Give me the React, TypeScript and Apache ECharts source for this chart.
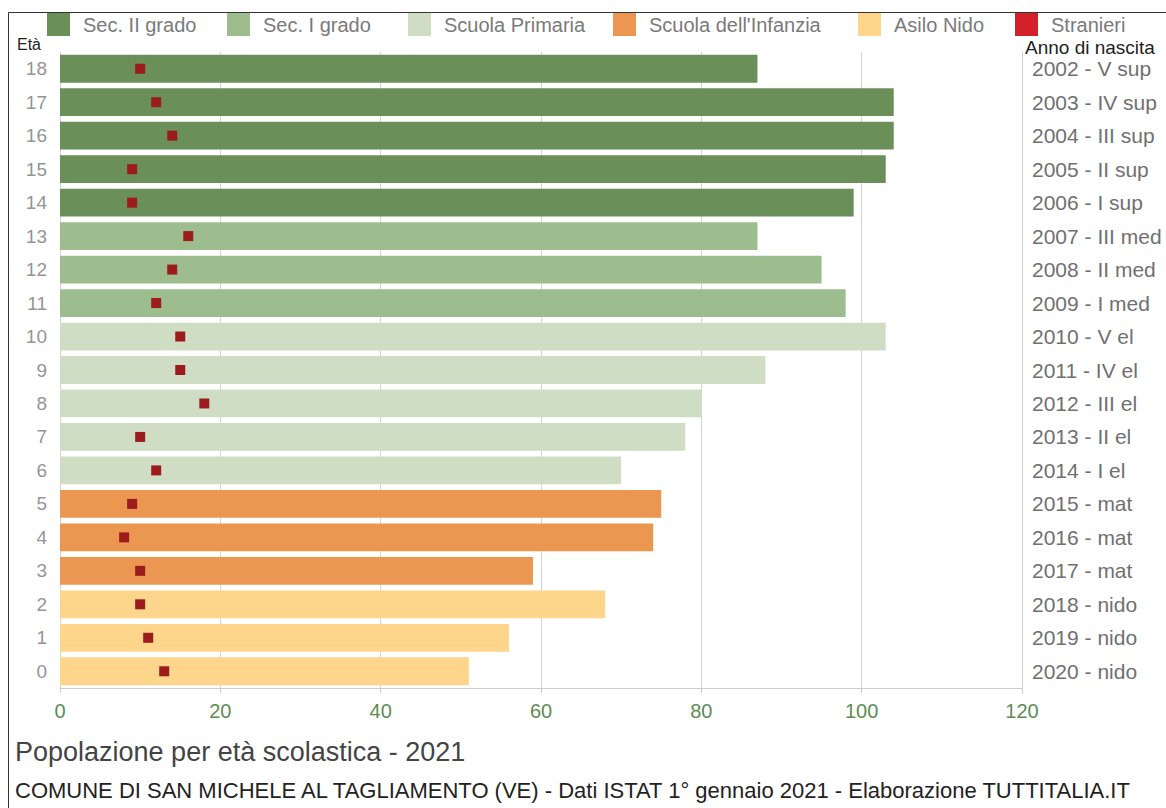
import React, { useEffect, useRef } from "react";
import * as echarts from "echarts";

const ages = ["0", "1", "2", "3", "4", "5", "6", "7", "8", "9", "10", "11", "12", "13", "14", "15", "16", "17", "18"];
const birthLabels = [
  "2020 - nido", "2019 - nido", "2018 - nido",
  "2017 - mat", "2016 - mat", "2015 - mat",
  "2014 - I el", "2013 - II el", "2012 - III el", "2011 - IV el", "2010 - V el",
  "2009 - I med", "2008 - II med", "2007 - III med",
  "2006 - I sup", "2005 - II sup", "2004 - III sup", "2003 - IV sup", "2002 - V sup",
];
const totals = [51, 56, 68, 59, 74, 75, 70, 78, 80, 88, 103, 98, 95, 87, 99, 103, 104, 104, 87];
const stranieri = [13, 11, 10, 10, 8, 9, 12, 10, 18, 15, 15, 12, 14, 16, 9, 9, 14, 12, 10];
const levelNames = ["Sec. II grado", "Sec. I grado", "Scuola Primaria", "Scuola dell'Infanzia", "Asilo Nido"];
const levelColors = ["#6b8f59", "#9ebd8e", "#d0ddc5", "#ec9751", "#fdd68b"];
const levelOfAge = [4, 4, 4, 3, 3, 3, 2, 2, 2, 2, 2, 1, 1, 1, 0, 0, 0, 0, 0];
const xTicks = [0, 20, 40, 60, 80, 100, 120];
const legendLefts = [47, 227, 408, 613, 858, 1015];

const FONT = "'Liberation Sans', Arial, Helvetica, sans-serif";

export default function App() {
  const ref = useRef<HTMLDivElement>(null);
  useEffect(() => {
    if (!ref.current) return;
    const chart = echarts.init(ref.current, null, { renderer: "svg" });
    const legendNames = [...levelNames, "Stranieri"];
    const option: any = {
      animation: false,
      textStyle: { fontFamily: FONT },
      title: [
        {
          text: "Popolazione per età scolastica - 2021",
          left: 10,
          top: 733,
          textStyle: { fontFamily: FONT, fontSize: 27, fontWeight: "normal", color: "#444" },
        },
        {
          text: "COMUNE DI SAN MICHELE AL TAGLIAMENTO (VE) - Dati ISTAT 1° gennaio 2021 - Elaborazione TUTTITALIA.IT",
          left: 10,
          top: 774,
          textStyle: { fontFamily: FONT, fontSize: 22, fontWeight: "normal", color: "#222" },
        },
      ],
      legend: legendNames.map((n, i) => ({
        left: legendLefts[i],
        top: 13,
        itemWidth: 23,
        itemHeight: 23,
        icon: "rect",
        selectedMode: false,
        padding: 0,
        data: [i === 5 ? { name: n, itemStyle: { color: "#d3202a", opacity: 1 } } : n],
        textStyle: { fontFamily: FONT, fontSize: 20, color: "#7a7a7a", padding: [0, 0, 0, 8] },
      })),
      grid: { left: 60, right: 144, top: 52, bottom: 120 },
      xAxis: {
        type: "value",
        min: 0,
        max: 120,
        interval: 20,
        axisLine: { show: true, lineStyle: { color: "#cccccc" } },
        axisTick: { show: true, length: 5, lineStyle: { color: "#cccccc" } },
        splitLine: { show: true, lineStyle: { color: "#d4d4d4" } },
        axisLabel: {
          fontFamily: FONT,
          fontSize: 20,
          color: "#5e8c55",
          margin: 13,
          formatter: (v: number) => (xTicks.includes(v) ? String(v) : ""),
        },
      },
      yAxis: [
        {
          type: "category",
          data: ages,
          axisLine: { show: false },
          axisTick: { show: false },
          axisLabel: { fontFamily: FONT, fontSize: 19, color: "#959595", margin: 13 },
        },
        {
          type: "category",
          data: birthLabels,
          position: "right",
          axisLine: { show: true, lineStyle: { color: "#cccccc" } },
          axisTick: { show: false },
          axisLabel: { fontFamily: FONT, fontSize: 21, color: "#707070", margin: 10 },
        },
      ],
      series: [
        ...levelNames.map((name, li) => ({
          type: "bar",
          name,
          stack: "tot",
          yAxisIndex: 0,
          barCategoryGap: "17%",
          itemStyle: { color: levelColors[li] },
          data: totals.map((v, i) => (levelOfAge[i] === li ? v : "-")),
        })),
        {
          type: "scatter",
          name: "Stranieri",
          yAxisIndex: 0,
          symbol: "rect",
          symbolSize: [10, 10],
          itemStyle: { color: "#9c1b1d", opacity: 1 },
          z: 5,
          data: stranieri.map((v, i) => [v, ages[i]]),
        },
      ],
      graphic: [
        {
          type: "rect",
          shape: { x: 8.5, y: 12.5, width: 1300, height: 900 },
          style: { fill: "none", stroke: "#333", lineWidth: 1 },
          silent: true,
          z: 0,
        },
        {
          type: "text",
          left: 17,
          top: 36,
          style: { text: "Età", fontFamily: FONT, fontSize: 16, fill: "#222" },
        },
        {
          type: "text",
          left: 1025,
          top: 38,
          style: { text: "Anno di nascita", fontFamily: FONT, fontSize: 19, fill: "#222" },
        },
      ],
    };
    chart.setOption(option);
    return () => chart.dispose();
  }, []);
  return (
    <div
      ref={ref}
      style={{ position: "absolute", left: 0, top: 0, width: 1166, height: 808, background: "#fff" }}
    />
  );
}
